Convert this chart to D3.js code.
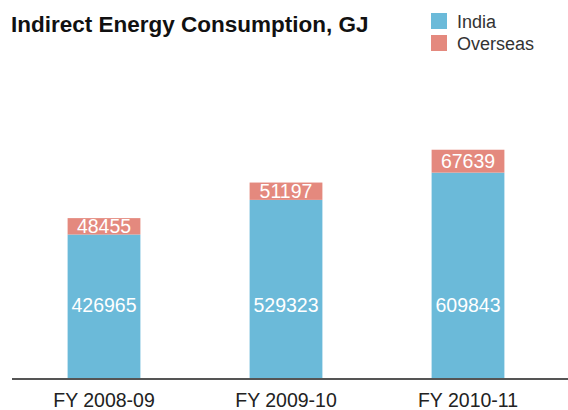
<!DOCTYPE html>
<html>
<head>
<meta charset="utf-8">
<script src="https://cdn.jsdelivr.net/npm/d3@7"></script>
<style>
  body { margin: 0; background: #fff; }
  text { font-family: "Liberation Sans", Arial, sans-serif; }
</style>
</head>
<body>
<svg></svg>
<script>
// chart data
var years = ["FY 2008-09", "FY 2009-10", "FY 2010-11"];
var india = [426965, 529323, 609843];
var overseas = [48455, 51197, 67639];
var seriesNames = ["India", "Overseas"];
var colors = ["#6bbad9", "#e4897e"];

var width = 568,
    height = 410,
    base = 379;

var svg = d3.select("svg")
    .attr("width", width)
    .attr("height", height);

var x = d3.scaleBand()
    .domain(years)
    .range([13, 559])
    .paddingInner(0.6)
    .paddingOuter(0.3);

var y = d3.scaleLinear()
    .domain([0, 700000])
    .range([base, base - 700000 / 2955]);

var rows = years.map(function(d, i) {
  return {year: d, India: india[i], Overseas: overseas[i]};
});
var stack = d3.stack().keys(seriesNames)(rows);

var layers = svg.selectAll(".layer")
    .data(stack)
  .enter().append("g")
    .attr("class", "layer")
    .attr("fill", function(d, i) { return colors[i]; });

layers.selectAll("rect")
    .data(function(d) { return d; })
  .enter().append("rect")
    .attr("x", function(d) { return x(d.data.year); })
    .attr("y", function(d) { return y(d[1]); })
    .attr("width", x.bandwidth())
    .attr("height", function(d) { return y(d[0]) - y(d[1]); });

// value labels
layers.selectAll("text")
    .data(function(d) { return d.map(function(p) { return {p: p, key: d.key}; }); })
  .enter().append("text")
    .attr("x", function(d) { return x(d.p.data.year) + x.bandwidth() / 2; })
    .attr("y", function(d) {
      if (d.key == "India") return base - 67;
      return (y(d.p[0]) + y(d.p[1])) / 2 + 7;
    })
    .attr("text-anchor", "middle")
    .attr("fill", "#fff")
    .style("font-size", "19.5px")
    .text(function(d) { return d.p.data[d.key]; });

// axis
var xAxis = svg.append("g")
    .attr("transform", "translate(0," + base + ")")
    .call(d3.axisBottom(x).tickSize(0).tickPadding(14));
xAxis.select(".domain").remove();
xAxis.append("line")
    .attr("x1", 12).attr("x2", width)
    .attr("stroke", "#555").attr("stroke-width", 2);
xAxis.selectAll(".tick text")
    .attr("fill", "#222")
    .style("font-size", "19.5px")
    .style("font-family", "'Liberation Sans', Arial, sans-serif");

// title
svg.append("text")
    .attr("x", 11)
    .attr("y", 32)
    .attr("font-weight", "bold")
    .attr("fill", "#111")
    .style("font-size", "22.5px")
    .text("Indirect Energy Consumption, GJ");

// legend
var legend = svg.selectAll(".legend")
    .data(seriesNames)
  .enter().append("g")
    .attr("class", "legend")
    .attr("transform", function(d, i) { return "translate(431," + (13 + i * 22) + ")"; });
legend.append("rect")
    .attr("width", 16).attr("height", 16)
    .attr("fill", function(d, i) { return colors[i]; });
legend.append("text")
    .attr("x", 26).attr("y", 15)
    .attr("fill", "#333")
    .style("font-size", "18px")
    .text(function(d) { return d; });
</script>
</body>
</html>
